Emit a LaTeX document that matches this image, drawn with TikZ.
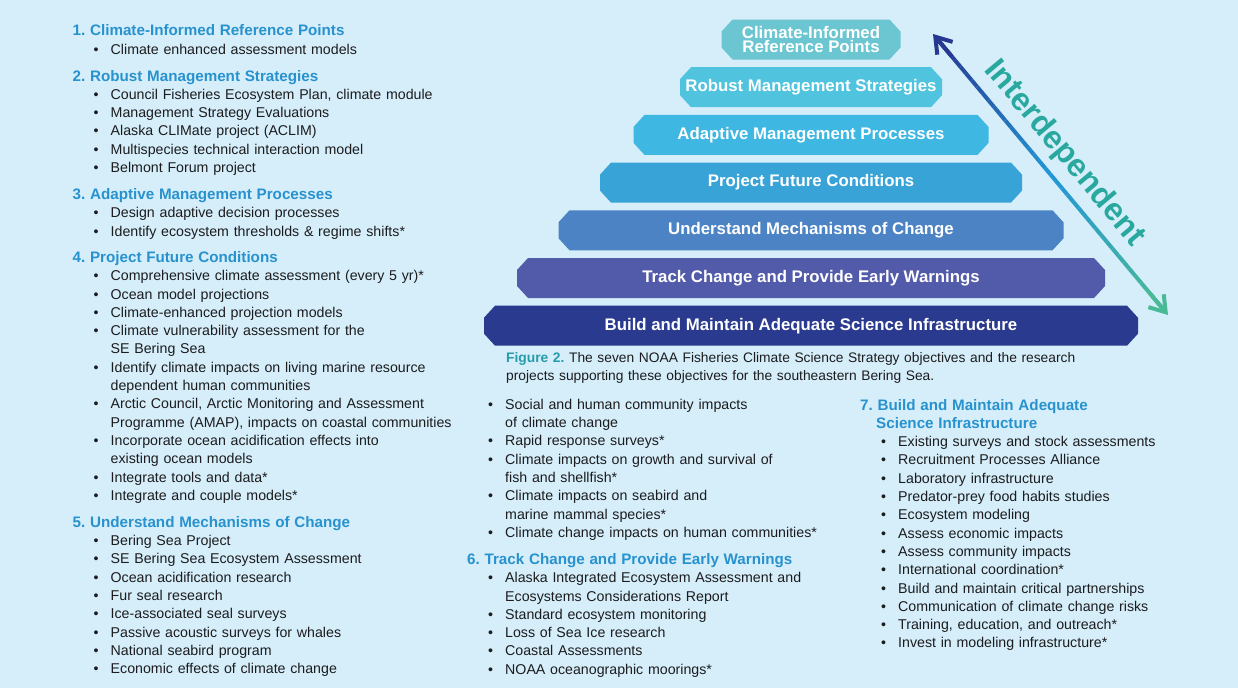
\documentclass[tikz,border=0pt]{standalone}
\usepackage{fontspec}
\setmainfont{Liberation Sans}
\usetikzlibrary{positioning,calc,arrows.meta}
\frenchspacing

\definecolor{bgblue}{RGB}{213,238,250}
\definecolor{headblue}{RGB}{40,146,206}
\definecolor{ink}{RGB}{28,28,30}
\definecolor{figteal}{RGB}{38,156,170}
\definecolor{lvA}{RGB}{108,198,210}
\definecolor{lvB}{RGB}{80,196,222}
\definecolor{lvC}{RGB}{62,183,226}
\definecolor{lvD}{RGB}{56,163,215}
\definecolor{lvE}{RGB}{76,131,196}
\definecolor{lvF}{RGB}{82,90,170}
\definecolor{lvG}{RGB}{42,58,143}
\definecolor{arrtop}{RGB}{38,56,145}
\definecolor{arrmid}{RGB}{34,150,212}
\definecolor{arrbot}{RGB}{74,186,150}
\definecolor{interteal}{RGB}{40,168,158}

\newcommand{\bodyfont}{\fontsize{14.2}{18.3}\selectfont}
\newcommand{\hd}[1]{{\color{headblue}\bfseries\fontsize{15.2}{18.3}\selectfont #1}}
\newcommand{\itm}[1]{\hspace*{21pt}\makebox[17pt][l]{\textbullet}#1}
\newcommand{\itmc}[1]{\hspace*{38pt}#1}

\tikzset{level/.style={minimum height=40pt,inner sep=0pt,fill=bgblue,text=white,align=center,font=\bfseries\fontsize{16.8}{14.5}\selectfont,
  path picture={\fill[#1] ([xshift=11pt]path picture bounding box.north west) -- ([xshift=-11pt]path picture bounding box.north east) -- ([yshift=-12pt]path picture bounding box.north east) -- ([yshift=12pt]path picture bounding box.south east) -- ([xshift=-11pt]path picture bounding box.south east) -- ([xshift=11pt]path picture bounding box.south west) -- ([yshift=12pt]path picture bounding box.south west) -- ([yshift=-12pt]path picture bounding box.north west) -- cycle;}},
column/.style={anchor=base west,inner sep=0pt,text width=400pt,align=left,text=ink,font=\bodyfont}}

\begin{document}
\begin{tikzpicture}[x=1pt,y=-1pt]
  \useasboundingbox (0,0) rectangle (1238,688);
  \fill[bgblue] (0,0) rectangle (1238,688);

  % pyramid of objectives
  \node[level=lvA,minimum width=179] (lv1) at (811,39.5) {Climate-Informed\\Reference Points};
  \foreach \k/\w/\col/\txt [remember=\k as \j (initially 1)] in {2/262/lvB/Robust Management Strategies, 3/355/lvC/Adaptive Management Processes, 4/422/lvD/Project Future Conditions, 5/505/lvE/Understand Mechanisms of Change, 6/588/lvF/Track Change and Provide Early Warnings, 7/654/lvG/Build and Maintain Adequate Science Infrastructure}
    \node[level=\col,minimum width=\w,below=7.3pt of lv\j] (lv\k) {\txt};

  % interdependence arrow
  \coordinate (tipA) at (933,34);
  \coordinate (tipB) at (1168,315);
  \foreach \i in {0,...,39}{
    \pgfmathsetmacro{\pa}{0.02+0.96*\i/40}
    \pgfmathsetmacro{\pb}{0.02+0.96*(\i+1)/40}
    \ifnum\i<20 \pgfmathtruncatemacro{\mix}{100*\i/19}\def\segcol{arrmid!\mix!arrtop}
    \else \pgfmathtruncatemacro{\mix}{100*(\i-20)/19}\def\segcol{arrbot!\mix!arrmid}\fi
    \draw[line width=4pt,color=\segcol] ($(tipA)!\pa!(tipB)$) -- ($(tipA)!\pb!(tipB)$);}
  \draw[arrtop,line width=4pt,-{Straight Barb[length=15pt,width=20pt]}] ($(tipA)!0.08!(tipB)$) -- (tipA);
  \draw[arrbot,line width=4pt,-{Straight Barb[length=15pt,width=20pt]}] ($(tipA)!0.92!(tipB)$) -- (tipB);
  \path (tipA) -- (tipB) node[pos=0.48,sloped,above=9pt,inner sep=0pt,text=interteal,font=\bfseries\fontsize{32}{32}\selectfont] (inter) {Interdependent};

  % caption
  \node[column,text width=600pt,font=\fontsize{13.8}{18}\selectfont] (cap) at (506,362.7) {{\color{figteal}\bfseries Figure 2.} The seven NOAA Fisheries Climate Science Strategy objectives and the research\\projects supporting these objectives for the southeastern Bering Sea.};

  % project lists
  \node[column] (left) at (72.5,35.7) {\hd{1. Climate-Informed Reference Points}\\
    \itm{Climate enhanced assessment models}\\[8.7pt]
    \hd{2. Robust Management Strategies}\\
    \itm{Council Fisheries Ecosystem Plan, climate module}\\
    \itm{Management Strategy Evaluations}\\
    \itm{Alaska CLIMate project (ACLIM)}\\
    \itm{Multispecies technical interaction model}\\
    \itm{Belmont Forum project}\\[8.7pt]
    \hd{3. Adaptive Management Processes}\\
    \itm{Design adaptive decision processes}\\
    \itm{Identify ecosystem thresholds \& regime shifts*}\\[8pt]
    \hd{4. Project Future Conditions}\\
    \itm{Comprehensive climate assessment (every 5 yr)*}\\
    \itm{Ocean model projections}\\
    \itm{Climate-enhanced projection models}\\
    \itm{Climate vulnerability assessment for the}\\
    \itmc{SE Bering Sea}\\
    \itm{Identify climate impacts on living marine resource}\\
    \itmc{dependent human communities}\\
    \itm{Arctic Council, Arctic Monitoring and Assessment}\\
    \itmc{Programme (AMAP), impacts on coastal communities}\\
    \itm{Incorporate ocean acidification effects into}\\
    \itmc{existing ocean models}\\
    \itm{Integrate tools and data*}\\
    \itm{Integrate and couple models*}\\[8.7pt]
    \hd{5. Understand Mechanisms of Change}\\
    \itm{Bering Sea Project}\\
    \itm{SE Bering Sea Ecosystem Assessment}\\
    \itm{Ocean acidification research}\\
    \itm{Fur seal research}\\
    \itm{Ice-associated seal surveys}\\
    \itm{Passive acoustic surveys for whales}\\
    \itm{National seabird program}\\
    \itm{Economic effects of climate change}};

  \node[column] (mid) at (467,409.3) {\itm{Social and human community impacts}\\
    \itmc{of climate change}\\
    \itm{Rapid response surveys*}\\
    \itm{Climate impacts on growth and survival of}\\
    \itmc{fish and shellfish*}\\
    \itm{Climate impacts on seabird and}\\
    \itmc{marine mammal species*}\\
    \itm{Climate change impacts on human communities*}\\[8.7pt]
    \hd{6. Track Change and Provide Early Warnings}\\
    \itm{Alaska Integrated Ecosystem Assessment and}\\
    \itmc{Ecosystems Considerations Report}\\
    \itm{Standard ecosystem monitoring}\\
    \itm{Loss of Sea Ice research}\\
    \itm{Coastal Assessments}\\
    \itm{NOAA oceanographic moorings*}};

  \node[column] (right) at (860,410) {\hd{7. Build and Maintain Adequate}\\
    \hd{\hspace*{16pt}Science Infrastructure}\\
    \itm{Existing surveys and stock assessments}\\
    \itm{Recruitment Processes Alliance}\\
    \itm{Laboratory infrastructure}\\
    \itm{Predator-prey food habits studies}\\
    \itm{Ecosystem modeling}\\
    \itm{Assess economic impacts}\\
    \itm{Assess community impacts}\\
    \itm{International coordination*}\\
    \itm{Build and maintain critical partnerships}\\
    \itm{Communication of climate change risks}\\
    \itm{Training, education, and outreach*}\\
    \itm{Invest in modeling infrastructure*}};
\end{tikzpicture}
\end{document}
